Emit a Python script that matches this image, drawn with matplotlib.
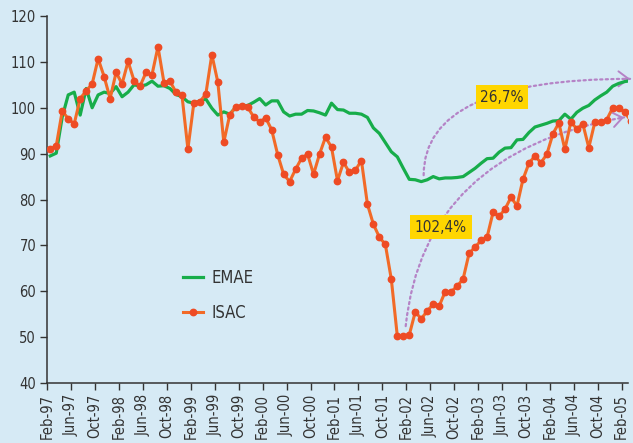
import numpy as np
import pandas as pd
import matplotlib.pyplot as plt
from matplotlib import font_manager
from matplotlib.patches import FancyArrowPatch

# === Данные (месячные индексы, Feb-97 ... Feb-05) ===
months = pd.date_range("1997-02-01", periods=97, freq="MS").strftime("%b-%y").tolist()

emae = [89.5, 90.1, 98.0, 102.8, 103.4, 98.4, 104.2, 100.0, 102.8, 103.4,
        103.1, 104.6, 102.4, 103.4, 105.0, 104.7, 105.0, 105.8, 104.7, 104.8,
        104.2, 102.9, 102.4, 101.3, 101.0, 101.5, 101.9, 99.9, 98.4, 99.1,
        98.6, 100.1, 100.4, 100.5, 101.2, 102.0, 100.6, 101.5, 101.5, 99.1,
        98.2, 98.6, 98.6, 99.4, 99.3, 98.9, 98.4, 101.0, 99.6, 99.5,
        98.8, 98.8, 98.6, 97.9, 95.6, 94.4, 92.4, 90.4, 89.3, 86.8,
        84.4, 84.3, 83.9, 84.3, 85.0, 84.5, 84.7, 84.7, 84.8, 85.0,
        85.9, 86.8, 87.9, 88.9, 89.0, 90.3, 91.2, 91.3, 93.0, 93.1,
        94.6, 95.8, 96.2, 96.6, 97.1, 97.2, 98.6, 97.5, 99.0, 99.9,
        100.5, 101.7, 102.6, 103.4, 104.7, 105.3, 105.7, 105.9]

isac = [91.0, 91.7, 99.3, 97.6, 96.5, 102.0, 103.7, 105.2, 110.7, 106.8,
        102.0, 107.7, 105.2, 110.1, 105.9, 104.7, 107.7, 107.2, 113.3, 105.5,
        105.8, 103.4, 102.8, 91.0, 101.1, 101.3, 103.0, 111.6, 105.6, 92.5,
        98.5, 100.2, 100.4, 100.1, 98.0, 96.9, 97.8, 95.2, 89.8, 85.5,
        83.9, 86.6, 89.0, 89.9, 85.5, 89.9, 93.6, 91.4, 84.1, 88.1,
        85.9, 86.4, 88.5, 79.0, 74.6, 71.8, 70.2, 62.6, 50.2, 50.2,
        50.5, 55.5, 54.0, 55.7, 57.2, 56.8, 59.9, 59.9, 61.1, 62.7,
        68.3, 69.6, 71.1, 71.8, 77.2, 76.3, 77.9, 80.5, 78.6, 84.4,
        87.9, 89.5, 88.0, 89.9, 94.3, 96.7, 90.9, 96.9, 95.4, 96.5,
        91.3, 96.8, 96.8, 97.4, 100.0, 100.0, 99.0, 97.2]

tick_step = 4
labels_pct = ["26,7%", "102,4%"]

# === Стиль ===
bg = "#d6eaf5"
green = "#17ad4a"
orange = "#f26a27"
orange_mk = "#ee4b24"
purple = "#b583c6"
txt = "#333333"

# узкий шрифт, если есть
names = {f.name for f in font_manager.fontManager.ttflist}
if "Liberation Sans Narrow" in names:
    plt.rcParams["font.family"] = ["Liberation Sans Narrow", "DejaVu Sans"]
else:
    plt.rcParams["font.family"] = ["DejaVu Sans"]
    plt.rcParams["font.stretch"] = "condensed"

fig = plt.figure(figsize=(6.33, 4.43), dpi=100, facecolor=bg)
ax = fig.add_axes([0.0747, 0.1354, 0.9169, 0.8285], facecolor=bg)

x_e = np.arange(len(emae)) + 0.5
x_i = np.arange(len(isac)) + 0.5

# === Дуги-стрелки ===
arc1 = FancyArrowPatch((62.9, 85.3), (97.4, 106.3),
                       connectionstyle="angle3,angleA=90,angleB=0",
                       arrowstyle="-", linestyle=(0, (1, 1.5)), lw=1.6,
                       color=purple, shrinkA=0, shrinkB=0, zorder=1, clip_on=False)
ax.add_patch(arc1)
head1 = FancyArrowPatch((96.6, 106.3), (97.4, 106.3), arrowstyle="->,head_length=0.6,head_width=0.45",
                        mutation_scale=12, lw=1.4, color=purple, shrinkA=0, shrinkB=0,
                        zorder=1, clip_on=False)
ax.add_patch(head1)

arc2 = FancyArrowPatch((59.9, 52.4), (96.4, 97.9),
                       connectionstyle="angle3,angleA=84,angleB=10",
                       arrowstyle="-", linestyle=(0, (1, 1.5)), lw=1.6,
                       color=purple, shrinkA=0, shrinkB=0, zorder=1, clip_on=False)
ax.add_patch(arc2)
head2 = FancyArrowPatch((95.6, 97.7), (96.4, 97.9), arrowstyle="->,head_length=0.6,head_width=0.45",
                        mutation_scale=12, lw=1.4, color=purple, shrinkA=0, shrinkB=0,
                        zorder=1, clip_on=False)
ax.add_patch(head2)

# === Линии ===
ax.plot(x_e, emae, color=green, lw=2.3, label="EMAE", zorder=3)
ax.plot(x_i, isac, color=orange, lw=2.2, marker="o", ms=4.6, mfc=orange_mk,
        mec=orange_mk, label="ISAC", zorder=4)

# === Подписи ===
box = dict(boxstyle="square,pad=0.3", fc="#ffd600", ec="none")
ax.text(76.0, 102.3, labels_pct[0], ha="center", va="center", fontsize=11,
        color=txt, bbox=box, zorder=5)
ax.text(65.8, 74.0, labels_pct[1], ha="center", va="center", fontsize=11,
        color=txt, bbox=box, zorder=5)

# === Оси ===
ax.set_xlim(0, 97)
ax.set_ylim(40, 120)
ax.set_yticks(range(40, 121, 10))
ax.set_xticks(range(0, 97, tick_step))
ax.set_xticklabels(months[::tick_step], rotation=90)
ax.tick_params(axis="both", colors=txt, labelsize=10.5, length=5, width=1)
ax.tick_params(axis="y", pad=3)
ax.tick_params(axis="x", pad=3)
for s in ["top", "right"]:
    ax.spines[s].set_visible(False)
for s in ["left", "bottom"]:
    ax.spines[s].set_color(txt)
    ax.spines[s].set_linewidth(1.1)

leg = ax.legend(loc="upper left", bbox_to_anchor=(0.234, 0.312), frameon=False,
                fontsize=12, handlelength=1.2, handletextpad=0.5, labelspacing=1.05,
                borderpad=0, borderaxespad=0)
for t in leg.get_texts():
    t.set_color(txt)

plt.savefig("out.png", dpi=100, facecolor=bg)
